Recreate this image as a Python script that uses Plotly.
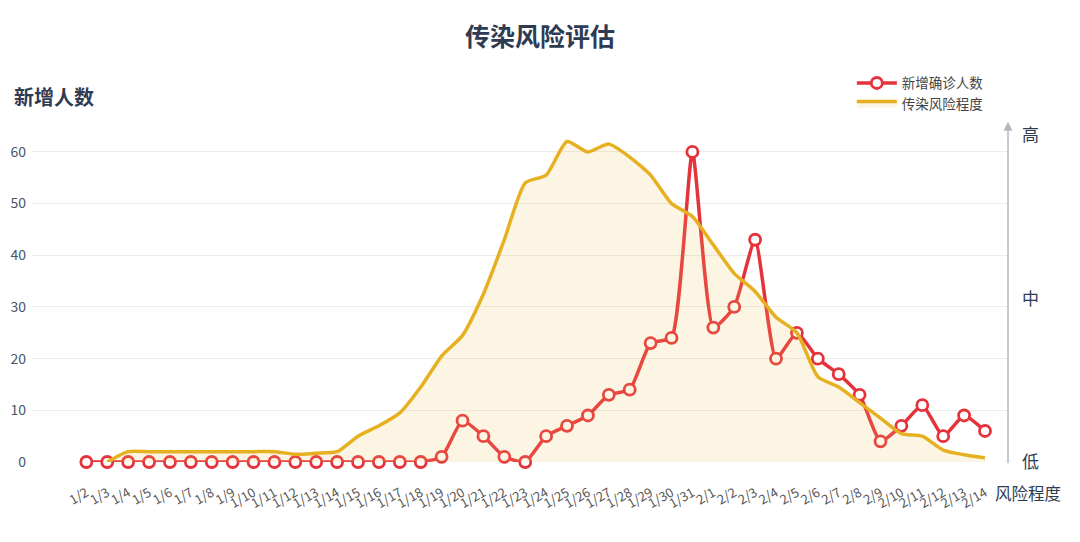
import plotly.graph_objects as go

# categories: 1/2 .. 1/31, 2/1 .. 2/14
DATES = [f"1/{d}" for d in range(2, 32)] + [f"2/{d}" for d in range(1, 15)]

NEW_CASES = [
    0, 0, 0, 0, 0, 0, 0, 0, 0, 0, 0, 0, 0, 0, 0, 0, 0,   # 1/2 - 1/18
    1, 8, 5, 1, 0, 5, 7, 9, 13, 14, 23, 24, 60,          # 1/19 - 1/31
    26, 30, 43, 20, 25, 20, 17, 13, 4, 7, 11, 5, 9, 6,    # 2/1 - 2/14
]

RISK = [
    None, 0, 2, 2, 2, 2, 2, 2, 2, 2, 1.5, 1.7, 2, 5, 7, 9.5, 14.5,
    20.5, 24.5, 32.5, 43, 54, 55.5, 62, 60, 61.5, 59, 55.5, 50, 47.5,
    42, 36.5, 33, 28, 25, 16.5, 14.5, 11.5, 8.5, 5.5, 5, 2.3, 1.4, 0.8,
]

RISK_TICKS = [0, 31.6, 63.2]
RISK_LABELS = ["低", "中", "高"]

FONT = "Noto Sans CJK SC"
DARK = "#2e3b52"
RED = "#e5323b"
GOLD = "#e6b020"

fig = go.Figure()

fig.add_trace(go.Scatter(
    x=DATES, y=RISK,
    name="传染风险程度",
    mode="lines",
    line=dict(color=GOLD, width=3.5, shape="spline", smoothing=0.6),
    fill="tozeroy",
    fillcolor="rgba(240,195,90,0.16)",
    yaxis="y2",
    connectgaps=False,
))

fig.add_trace(go.Scatter(
    x=DATES, y=NEW_CASES,
    name="新增确诊人数",
    mode="lines+markers",
    line=dict(color=RED, width=3.5, shape="spline", smoothing=0.5),
    marker=dict(size=11, color="white", line=dict(color=RED, width=2.8)),
    cliponaxis=False,
))

# axis arrow on the right side
fig.add_annotation(
    xref="paper", yref="paper", x=1, y=1.01,
    axref="pixel", ayref="pixel", ax=0, ay=343,
    showarrow=True, arrowhead=2, arrowsize=1.2, arrowwidth=1.5,
    arrowcolor="#b4b8be", text="",
)
fig.add_annotation(
    xref="paper", yref="paper", x=-0.021, y=1.085,
    xanchor="left", yanchor="middle", showarrow=False,
    text="<b>新增人数</b>", font=dict(size=20, color=DARK, family=FONT),
)
fig.add_annotation(
    xref="paper", yref="paper", x=1.02, y=-0.093,
    xanchor="center", yanchor="middle", showarrow=False,
    text="风险程度", font=dict(size=16.5, color=DARK, family=FONT),
)

fig.update_layout(
    width=1064, height=526,
    margin=dict(l=24, r=64, t=117, b=72),
    paper_bgcolor="white",
    plot_bgcolor="white",
    font=dict(family=FONT, color="#555"),
    title=dict(
        text="<b>传染风险评估</b>", x=0.5, xanchor="center",
        y=0.944, yanchor="middle",
        font=dict(size=25, color=DARK, family=FONT),
    ),
    xaxis=dict(
        type="category", range=[-2.6, 44.1], automargin=False,
        tickangle=-30, tickfont=dict(size=13, color="#555"),
        showgrid=False, showline=False, zeroline=False,
        ticklabelstandoff=20,
    ),
    yaxis=dict(
        range=[0, 65.2], tickvals=[0, 10, 20, 30, 40, 50, 60],
        automargin=False,
        gridcolor="#ececec", gridwidth=1, zeroline=False,
        tickfont=dict(size=14, color="#4a5568"),
        ticklabelstandoff=5,
    ),
    yaxis2=dict(
        overlaying="y", side="right", range=[0, 65.2], automargin=False,
        tickvals=RISK_TICKS, ticktext=RISK_LABELS,
        showgrid=False, zeroline=False, showline=False,
        tickfont=dict(size=17, color=DARK, family=FONT),
        ticklabelstandoff=13,
    ),
    legend=dict(
        x=0.84, y=1.17, xanchor="left", yanchor="top",
        traceorder="reversed",
        font=dict(size=13.5, color="#444", family=FONT),
        bgcolor="rgba(0,0,0,0)", itemwidth=40,
    ),
)

fig.write_html("out.html")
